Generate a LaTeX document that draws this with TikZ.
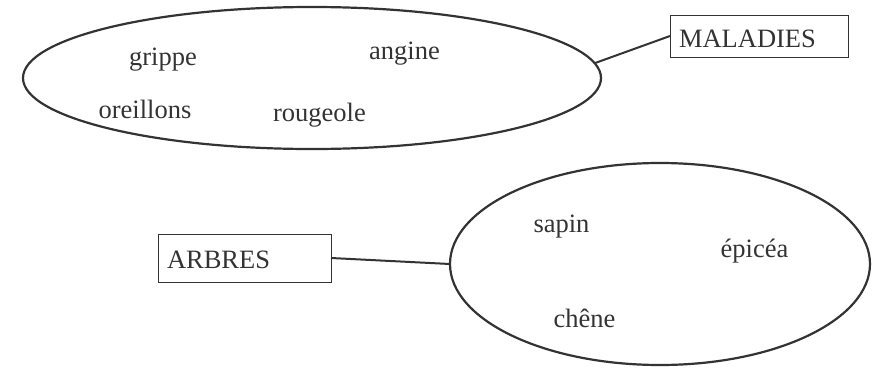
\documentclass[tikz,border=0pt]{standalone}
\usepackage{fontspec}
\setmainfont{Liberation Serif}
\usetikzlibrary{shapes.geometric}
\definecolor{ink}{HTML}{333333}
\begin{document}
\begin{tikzpicture}[x=1pt,y=-1pt,
  every node/.style={text=ink, font=\fontsize{26.5}{30}\selectfont},
  blob/.style={draw=ink, line width=2.2pt, ellipse, inner sep=0pt, outer sep=0pt},
  labelbox/.style={draw=ink, line width=1pt, rectangle, inner xsep=9pt, inner ysep=0pt, outer sep=0pt, align=left, text depth=0pt},
  link/.style={draw=ink, line width=2pt},
  word/.style={anchor=base, inner sep=0pt}]
\useasboundingbox (0,0) rectangle (875,367);
% ellipses
\node[blob, minimum width=578pt, minimum height=142pt] (e1) at (312,78) {};
\node[blob, minimum width=420pt, minimum height=202pt] (e2) at (660,264) {};
% boxes
\node[labelbox, text width=160pt, minimum height=42pt, text height=22pt] (m) at (759,36) {MALADIES};
\node[labelbox, text width=155pt, minimum height=48pt, text height=20pt] (a) at (244.5,258) {ARBRES};
% connectors
\draw[link] (e1.3.2) -- (m.west);
\draw[link] (a.east) -- (e2.west);
% words
\node[word] (w1) at (163,65) {grippe};
\node[word] (w2) at (404.5,59.5) {angine};
\node[word] (w3) at (145,118) {oreillons};
\node[word] (w4) at (319.5,121) {rougeole};
\node[word] (w5) at (561.5,232) {sapin};
\node[word] (w6) at (754.5,257) {épicéa};
\node[word] (w7) at (584.5,327) {chêne};
\end{tikzpicture}
\end{document}
